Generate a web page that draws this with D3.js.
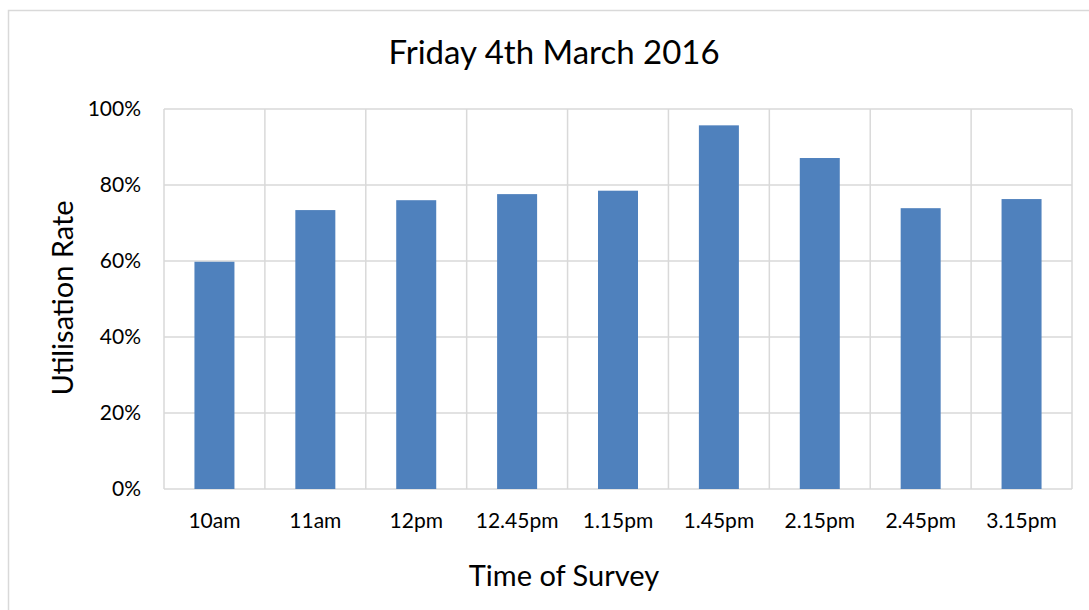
<!DOCTYPE html>
<html>
<head>
<meta charset="utf-8">
<script src="https://cdn.jsdelivr.net/npm/d3@7"></script>
<style>
  body { margin: 0; background: #fff; }
  svg { display: block; font-family: Lato, "Noto Sans", sans-serif; }
</style>
</head>
<body>
<svg></svg>
<script>
const categories = ["10am", "11am", "12pm", "12.45pm", "1.15pm", "1.45pm", "2.15pm", "2.45pm", "3.15pm"];
const values = [0.598, 0.734, 0.76, 0.776, 0.785, 0.957, 0.871, 0.739, 0.763];
const yTicks = [0, 0.2, 0.4, 0.6, 0.8, 1.0];

const width = 1089;
const height = 610;
const plot = { left: 164, right: 1072, top: 109, bottom: 489 };

let svg = d3.select("svg")
    .attr("width", width)
    .attr("height", height);

// chart border
svg.append("rect")
    .attr("x", 8.5)
    .attr("y", 10.5)
    .attr("width", 1100)
    .attr("height", 620)
    .attr("fill", "none")
    .attr("stroke", "#d9d9d9")
    .attr("stroke-width", 1.5);

let scaleX = d3.scaleBand()
    .domain(categories)
    .range([plot.left, plot.right])
    .paddingInner(0)
    .paddingOuter(0);

let scaleY = d3.scaleLinear()
    .domain([0, 1])
    .range([plot.bottom, plot.top]);

// horizontal gridlines
svg.append("g")
    .selectAll("line")
    .data(yTicks)
    .enter()
    .append("line")
    .attr("x1", plot.left)
    .attr("x2", plot.right)
    .attr("y1", d => scaleY(d))
    .attr("y2", d => scaleY(d))
    .attr("stroke", "#d9d9d9")
    .attr("stroke-width", 1.5);

// vertical gridlines at category boundaries
svg.append("g")
    .selectAll("line")
    .data(categories.concat(["end"]))
    .enter()
    .append("line")
    .attr("x1", (d, i) => plot.left + i * scaleX.step())
    .attr("x2", (d, i) => plot.left + i * scaleX.step())
    .attr("y1", plot.top)
    .attr("y2", plot.bottom)
    .attr("stroke", "#d9d9d9")
    .attr("stroke-width", 1.5);

// bars
const barW = 40;
svg.append("g")
    .selectAll("rect")
    .data(values)
    .enter()
    .append("rect")
    .attr("x", (d, i) => scaleX(categories[i]) + scaleX.bandwidth() / 2 - barW / 2)
    .attr("y", d => scaleY(d))
    .attr("width", barW)
    .attr("height", d => plot.bottom - scaleY(d))
    .attr("fill", "#4f81bd");

// y tick labels
svg.append("g")
    .selectAll("text")
    .data(yTicks)
    .enter()
    .append("text")
    .attr("x", 141)
    .attr("y", d => scaleY(d) + 7)
    .attr("text-anchor", "end")
    .attr("font-size", 21)
    .attr("fill", "#000")
    .text(d => d3.format(".0%")(d));

// x tick labels
svg.append("g")
    .selectAll("text")
    .data(categories)
    .enter()
    .append("text")
    .attr("x", d => scaleX(d) + scaleX.bandwidth() / 2)
    .attr("y", 528)
    .attr("text-anchor", "middle")
    .attr("font-size", 21)
    .attr("fill", "#000")
    .text(d => d);

// title
svg.append("text")
    .attr("x", 554)
    .attr("y", 64)
    .attr("text-anchor", "middle")
    .attr("font-size", 33)
    .attr("fill", "#000")
    .text("Friday 4th March 2016");

// axis titles
svg.append("text")
    .attr("x", 564)
    .attr("y", 586)
    .attr("text-anchor", "middle")
    .attr("font-size", 29)
    .attr("fill", "#000")
    .text("Time of Survey");

svg.append("text")
    .attr("transform", "translate(73, 298) rotate(-90)")
    .attr("text-anchor", "middle")
    .attr("font-size", 29)
    .attr("fill", "#000")
    .text("Utilisation Rate");
</script>
</body>
</html>
